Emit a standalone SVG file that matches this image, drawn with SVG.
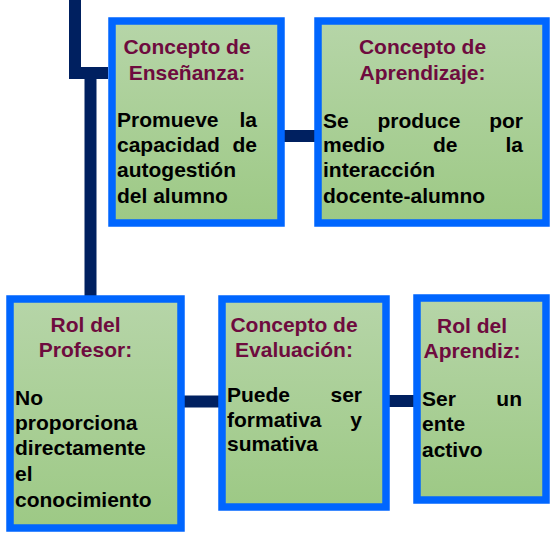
<svg xmlns="http://www.w3.org/2000/svg" width="550" height="538" viewBox="0 0 550 538">
<defs>
<linearGradient id="g" x1="0" y1="0" x2="0" y2="1">
<stop offset="0" stop-color="#b6d5a8"/>
<stop offset="1" stop-color="#9dc985"/>
</linearGradient>
<style>
.box{fill:url(#g);stroke:#0066ff;stroke-width:7.5}
.conn{fill:none;stroke:#002060;stroke-width:12;stroke-linejoin:miter}
.t{font-family:"Liberation Sans",Arial,sans-serif;font-weight:bold;font-size:21px;fill:#6e0b3e;text-anchor:middle}
.b{font-family:"Liberation Sans",Arial,sans-serif;font-weight:bold;font-size:21px;fill:#000}
.e{text-anchor:end}
</style>
</defs>
<rect width="550" height="538" fill="#fff"/>
<g id="connectors">
<path class="conn" d="M75,0 V73 H108"/>
<path class="conn" d="M90.5,73 V296"/>
<path class="conn" d="M280,136 H316" stroke-width="11"/>
<path class="conn" d="M182,401.5 H219" stroke-width="11"/>
<path class="conn" d="M380,401 H415" stroke-width="11"/>
</g>
<g id="ensenanza">
<rect class="box" x="112" y="21" width="169" height="202"/>
<text class="t" x="187" y="54">Concepto de</text>
<text class="t" x="187" y="80">Enseñanza:</text>
<text class="b" x="117" y="127">Promueve</text><text class="b e" x="257" y="127">la</text>
<text class="b" x="117" y="152">capacidad</text><text class="b e" x="257" y="152">de</text>
<text class="b" x="117" y="177">autogestión</text>
<text class="b" x="117" y="202.5">del alumno</text>
</g>
<g id="aprendizaje">
<rect class="box" x="318" y="21" width="228" height="202"/>
<text class="t" x="422.5" y="54">Concepto de</text>
<text class="t" x="422.5" y="80">Aprendizaje:</text>
<text class="b" x="323" y="127.5">Se</text><text class="b" x="377.5" y="127.5">produce</text><text class="b e" x="523" y="127.5">por</text>
<text class="b" x="323" y="152">medio</text><text class="b" x="433" y="152">de</text><text class="b e" x="523" y="152">la</text>
<text class="b" x="323" y="177">interacción</text>
<text class="b" x="323" y="202.5">docente-alumno</text>
</g>
<g id="profesor">
<rect class="box" x="10" y="299" width="171" height="229"/>
<text class="t" x="85.5" y="332">Rol del</text>
<text class="t" x="85.5" y="357">Profesor:</text>
<text class="b" x="15" y="405">No</text>
<text class="b" x="15" y="430">proporciona</text>
<text class="b" x="15" y="455">directamente</text>
<text class="b" x="15" y="481">el</text>
<text class="b" x="15" y="506.5">conocimiento</text>
</g>
<g id="evaluacion">
<rect class="box" x="222" y="299" width="164" height="208"/>
<text class="t" x="294" y="332">Concepto de</text>
<text class="t" x="294" y="356.5">Evaluación:</text>
<text class="b" x="227" y="401.5">Puede</text><text class="b e" x="362" y="401.5">ser</text>
<text class="b" x="227" y="426.5">formativa</text><text class="b e" x="362" y="426.5">y</text>
<text class="b" x="227" y="451">sumativa</text>
</g>
<g id="aprendiz">
<rect class="box" x="417" y="298" width="129" height="202"/>
<text class="t" x="472" y="333">Rol del</text>
<text class="t" x="472" y="358">Aprendiz:</text>
<text class="b" x="422" y="406">Ser</text><text class="b e" x="522" y="406">un</text>
<text class="b" x="422" y="431">ente</text>
<text class="b" x="422" y="456.5">activo</text>
</g>
</svg>
